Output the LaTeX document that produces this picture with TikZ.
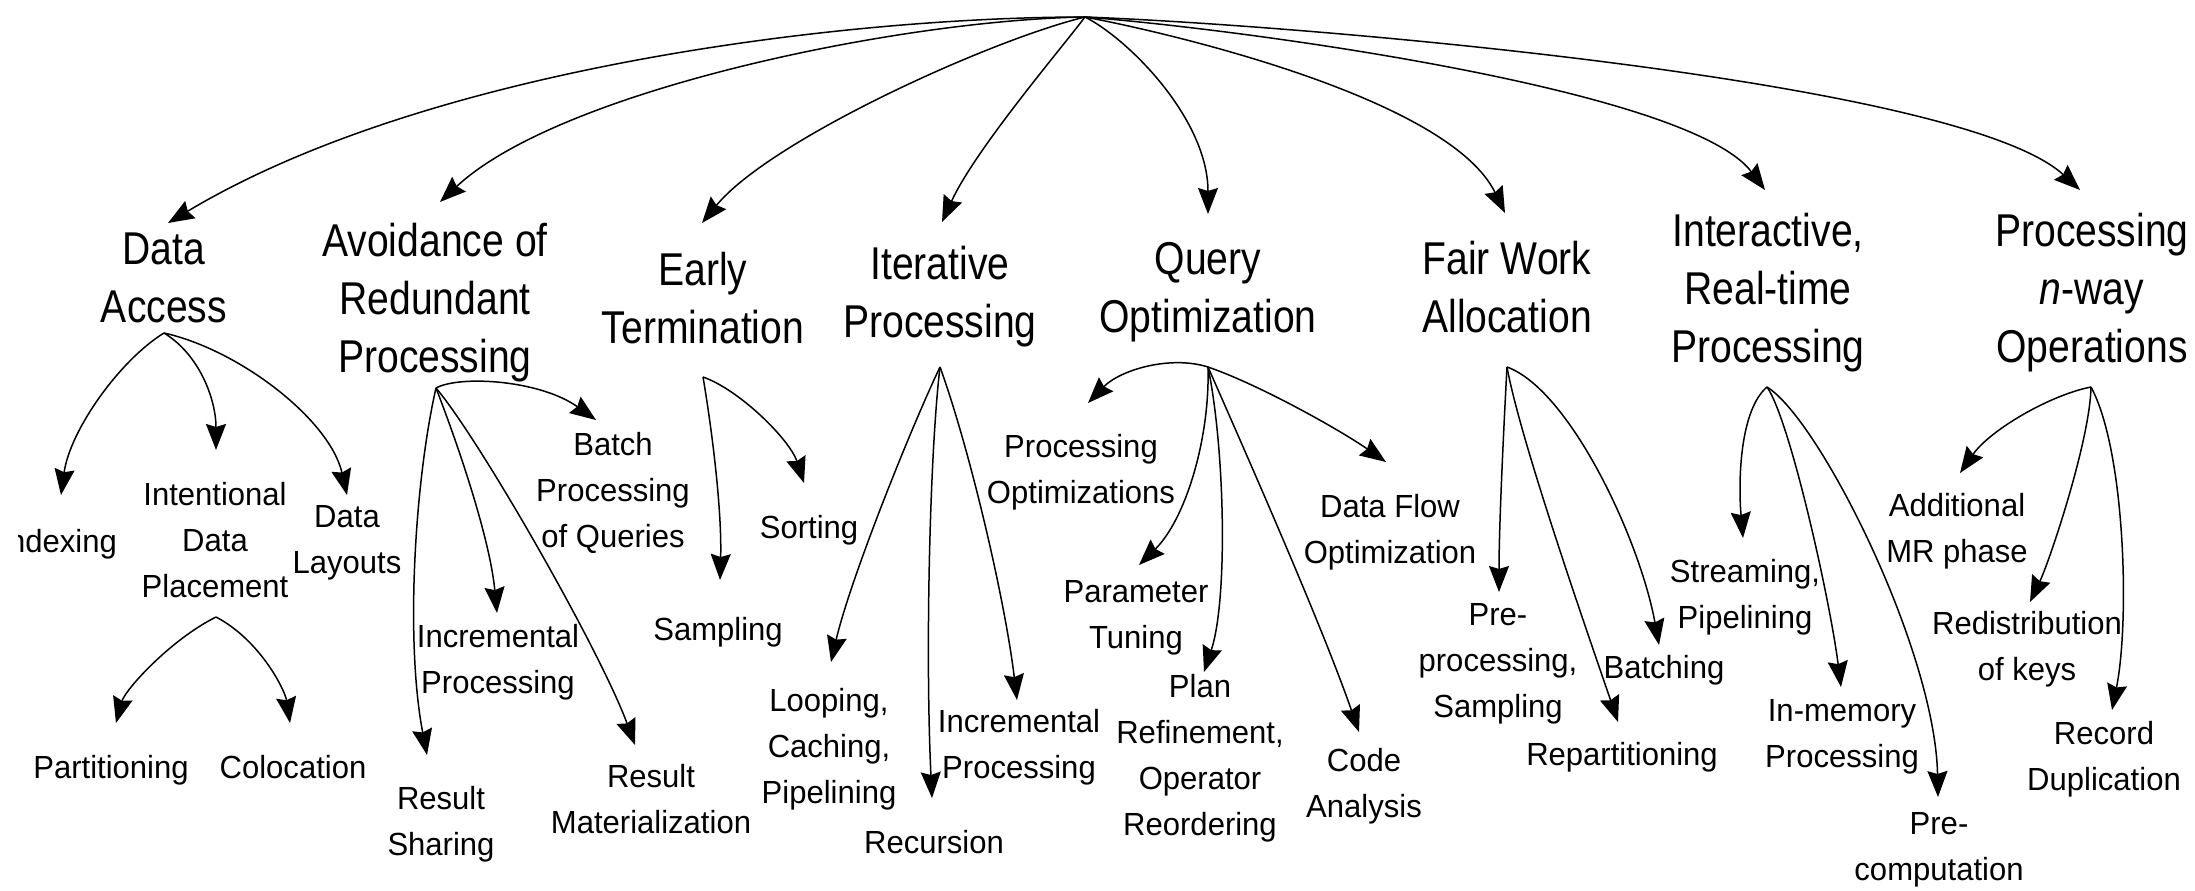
\documentclass[tikz,border=0pt]{standalone}
\usepackage{fontspec}
\setmainfont{Liberation Sans}
\newfontfamily\headfont[FakeStretch=0.85]{Liberation Sans}
\newfontfamily\leaffont[FakeStretch=0.97]{Liberation Sans}
\usetikzlibrary{arrows.meta}

\begin{document}
\begin{tikzpicture}[x=1pt,y=-1pt,
  head/.style={font=\headfont\fontsize{46}{58}\selectfont, align=center, inner sep=0pt, anchor=base},
  leaf/.style={font=\leaffont\fontsize{32}{46}\selectfont, align=center, inner sep=0pt, anchor=base},
  link/.style={line width=1.5pt, -{Stealth[length=26pt,width=20pt,inset=3pt]}}]

\useasboundingbox (0,0) rectangle (2195,891);
\clip (18,0) rectangle (2195,891);

% ---------- categories (placed at the baseline of their last line) ----------
\node[head] (da) at (164,322) {Data\\Access};
\node[head] (av) at (435,372) {Avoidance of\\Redundant\\Processing};
\node[head] (et) at (703,343) {Early\\Termination};
\node[head] (it) at (940,337) {Iterative\\Processing};
\node[head] (qo) at (1208,332) {Query\\Optimization};
\node[head] (fw) at (1507,332) {Fair Work\\Allocation};
\node[head] (ir) at (1768,362) {Interactive,\\Real-time\\Processing};
\node[head] (nw) at (2092,362) {Processing\\\textit{n}-way\\Operations};

% ---------- techniques ----------
\node[leaf, anchor=base east] (idx) at (117,552) {Indexing};
\node[leaf] (ip)   at (215,597)  {Intentional\\Data\\Placement};
\node[leaf] (dl)   at (347,573)  {Data\\Layouts};
\node[leaf] (part) at (111,778)  {Partitioning};
\node[leaf] (col)  at (293,778)  {Colocation};
\node[leaf] (bpq)  at (613,547)  {Batch\\Processing\\of Queries};
\node[leaf] (inca) at (498,693)  {Incremental\\Processing};
\node[leaf] (rs)   at (441,855)  {Result\\Sharing};
\node[leaf] (rm)   at (651,833)  {Result\\Materialization};
\node[leaf] (sort) at (809,538)  {Sorting};
\node[leaf] (samp) at (718,640)  {Sampling};
\node[leaf] (loop) at (829,803)  {Looping,\\Caching,\\Pipelining};
\node[leaf] (rec)  at (934,853)  {Recursion};
\node[leaf] (incb) at (1019,778) {Incremental\\Processing};
\node[leaf] (po)   at (1081,503) {Processing\\Optimizations};
\node[leaf] (pt)   at (1136,648) {Parameter\\Tuning};
\node[leaf] (plan) at (1200,835) {Plan\\Refinement,\\Operator\\Reordering};
\node[leaf] (df)   at (1390,563) {Data Flow\\Optimization};
\node[leaf] (code) at (1364,817) {Code\\Analysis};
\node[leaf] (pp)   at (1498,717) {Pre-\\processing,\\Sampling};
\node[leaf] (rep)  at (1622,765) {Repartitioning};
\node[leaf] (bat)  at (1664,678) {Batching};
\node[leaf] (str)  at (1745,628) {Streaming,\\Pipelining};
\node[leaf] (inm)  at (1842,767) {In-memory\\Processing};
\node[leaf] (prc)  at (1939,880) {Pre-\\computation};
\node[leaf] (add)  at (1957,562) {Additional\\MR phase};
\node[leaf] (red)  at (2027,680) {Redistribution\\of keys};
\node[leaf] (recd) at (2104,790) {Record\\Duplication};

% ---------- branch points and arrow ends ----------
\coordinate (root) at (1085,17);
\coordinate (da-t) at (168,223);
\coordinate (av-t) at (440,202);
\coordinate (et-t) at (702,223);
\coordinate (it-t) at (942,222);
\coordinate (qo-t) at (1208,214);
\coordinate (fw-t) at (1505,213);
\coordinate (ir-t) at (1765,190);
\coordinate (nw-t) at (2080,190);

\coordinate (da-h) at (164,333);
\coordinate (ip-h) at (216,617);
\coordinate (av-h) at (436,388);
\coordinate (et-h) at (703,377);
\coordinate (it-h) at (940,367);
\coordinate (qo-h) at (1208,367);
\coordinate (fw-h) at (1507,367);
\coordinate (ir-h) at (1767,387);
\coordinate (nw-h) at (2091,387);

\coordinate (idx-t)  at (61,495);
\coordinate (ip-t)   at (216,450);
\coordinate (dl-t)   at (347,495);
\coordinate (part-t) at (116,723);
\coordinate (col-t)  at (290,723);
\coordinate (bpq-t)  at (596,420);
\coordinate (inca-t) at (497,613);
\coordinate (rs-t)   at (427,755);
\coordinate (rm-t)   at (635,745);
\coordinate (sort-t) at (804,483);
\coordinate (samp-t) at (720,580);
\coordinate (loop-t) at (831,662);
\coordinate (rec-t)  at (932,798);
\coordinate (incb-t) at (1017,700);
\coordinate (po-t)   at (1088,403);
\coordinate (pt-t)   at (1139,565);
\coordinate (plan-t) at (1204,672);
\coordinate (df-t)   at (1386,462);
\coordinate (code-t) at (1359,732);
\coordinate (pp-t)   at (1499,592);
\coordinate (rep-t)  at (1618,722);
\coordinate (bat-t)  at (1659,645);
\coordinate (str-t)  at (1743,538);
\coordinate (inm-t)  at (1841,687);
\coordinate (prc-t)  at (1938,797);
\coordinate (add-t)  at (1960,473);
\coordinate (red-t)  at (2030,602);
\coordinate (recd-t) at (2112,710);

% ---------- top level fan ----------
\draw[link] (root) .. controls (850,17) and (430,66) .. (da-t);
\draw[link] (root) .. controls (900,20) and (560,90) .. (av-t);
\draw[link] (root) .. controls (990,40) and (770,140) .. (et-t);
\draw[link] (root) .. controls (1060,50) and (975,150) .. (it-t);
\draw[link] (root) .. controls (1130,40) and (1208,120) .. (qo-t);
\draw[link] (root) .. controls (1180,35) and (1450,100) .. (fw-t);
\draw[link] (root) .. controls (1250,30) and (1690,90) .. (ir-t);
\draw[link] (root) .. controls (1300,25) and (1960,80) .. (nw-t);

% ---------- second level ----------
\draw[link] (da-h) .. controls (120,360) and (70,430) .. (idx-t);
\draw[link] (da-h) .. controls (200,355) and (216,400) .. (ip-t);
\draw[link] (da-h) .. controls (240,350) and (330,420) .. (dl-t);
\draw[link] (ip-h) .. controls (170,640) and (125,690) .. (part-t);
\draw[link] (ip-h) .. controls (260,640) and (285,690) .. (col-t);

\draw[link] (av-h) .. controls (460,375) and (540,380) .. (bpq-t);
\draw[link] (av-h) .. controls (460,450) and (490,540) .. (inca-t);
\draw[link] (av-h) .. controls (415,480) and (405,640) .. (rs-t);
\draw[link] (av-h) .. controls (480,440) and (600,650) .. (rm-t);

\draw[link] (et-h) .. controls (740,390) and (790,440) .. (sort-t);
\draw[link] (et-h) .. controls (712,430) and (722,510) .. (samp-t);

\draw[link] (it-h) .. controls (910,430) and (850,580) .. (loop-t);
\draw[link] (it-h) .. controls (930,450) and (925,650) .. (rec-t);
\draw[link] (it-h) .. controls (970,450) and (1005,600) .. (incb-t);

\draw[link] (qo-h) .. controls (1170,355) and (1120,370) .. (po-t);
\draw[link] (qo-h) .. controls (1210,440) and (1185,520) .. (pt-t);
\draw[link] (qo-h) .. controls (1225,450) and (1228,600) .. (plan-t);
\draw[link] (qo-h) .. controls (1260,385) and (1340,430) .. (df-t);
\draw[link] (qo-h) .. controls (1240,440) and (1320,620) .. (code-t);

\draw[link] (fw-h) .. controls (1503,440) and (1499,530) .. (pp-t);
\draw[link] (fw-h) .. controls (1520,440) and (1590,640) .. (rep-t);
\draw[link] (fw-h) .. controls (1570,390) and (1640,540) .. (bat-t);

\draw[link] (ir-h) .. controls (1740,410) and (1738,480) .. (str-t);
\draw[link] (ir-h) .. controls (1790,420) and (1830,600) .. (inm-t);
\draw[link] (ir-h) .. controls (1820,420) and (1935,650) .. (prc-t);

\draw[link] (nw-h) .. controls (2050,395) and (1990,430) .. (add-t);
\draw[link] (nw-h) .. controls (2090,440) and (2050,560) .. (red-t);
\draw[link] (nw-h) .. controls (2125,450) and (2130,620) .. (recd-t);

\end{tikzpicture}
\end{document}
